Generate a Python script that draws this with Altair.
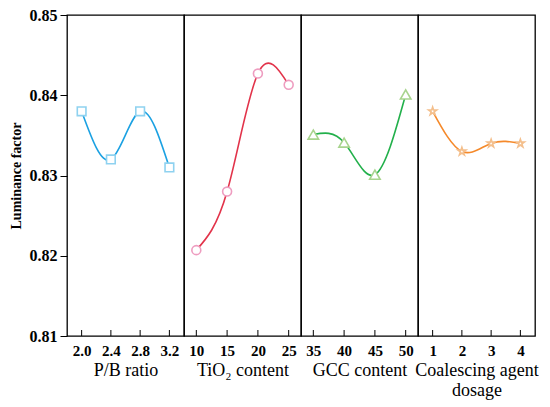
import altair as alt
import pandas as pd

pb_x = [2.0, 2.4, 2.8, 3.2]
pb_y = [0.838, 0.832, 0.838, 0.831]
tio2_x = [10, 15, 20, 25]
tio2_y = [0.8207, 0.828, 0.8427, 0.8413]
gcc_x = [35, 40, 45, 50]
gcc_y = [0.8351, 0.8341, 0.8301, 0.8401]
ca_x = [1, 2, 3, 4]
ca_y = [0.838, 0.833, 0.834, 0.834]
y_ticks = [0.81, 0.82, 0.83, 0.84, 0.85]

W, H = 117, 321
FONT = "Liberation Serif"
STAR = ("M0,-1L0.2245,-0.309L0.951,-0.309L0.363,0.118L0.588,0.809L0,0.382"
        "L-0.588,0.809L-0.363,0.118L-0.951,-0.309L-0.2245,-0.309Z")


def panel(xs, ys, domain, title, line_color, mark_color, shape, size, fmt, first=False):
    df = pd.DataFrame({"x": xs, "y": ys})
    xenc = alt.X(
        "x:Q",
        scale=alt.Scale(domain=domain, nice=False, zero=False),
        axis=alt.Axis(values=xs, format=fmt, title=title, ticks=False, grid=False,
                      domain=False, labelPadding=7, titlePadding=3, labelOverlap=False,
                      labelFlush=False, labelFont=FONT, titleFont=FONT),
    )
    if first:
        yaxis = alt.Axis(values=y_ticks, format=".2f", title="Luminance factor", grid=False,
                         domain=False, tickSize=7, tickColor="black", labelPadding=3,
                         labelFontSize=16, titleFontSize=14, titleFontWeight="bold",
                         titlePadding=6, labelFlush=False, labelOverlap=False,
                         labelFont=FONT, titleFont=FONT)
    else:
        yaxis = None
    yenc = alt.Y("y:Q", scale=alt.Scale(domain=[0.81, 0.85], nice=False, zero=False), axis=yaxis)
    line = alt.Chart(df).mark_line(interpolate="natural", color=line_color, strokeWidth=1.6).encode(x=xenc, y=yenc)
    pts = alt.Chart(df).mark_point(shape=shape, filled=True, fill="white", fillOpacity=1,
                                   stroke=mark_color, strokeWidth=1.6, size=size, opacity=1).encode(x=xenc, y=yenc)
    ticks = alt.Chart(df).mark_rule(color="black", strokeWidth=1).encode(
        x=xenc, y=alt.value(H), y2=alt.value(H - 6))
    return alt.layer(line, pts, ticks).properties(width=W, height=H)


p1 = panel(pb_x, pb_y, [1.8, 3.4], "P/B ratio", "#1ba1e2", "#8fd2f0", "square", 75, ".1f", first=True)
p2 = panel(tio2_x, tio2_y, [8, 27], "TiO₂ content", "#e2334a", "#ee9dc0", "circle", 80, "d")
p3 = panel(gcc_x, gcc_y, [33, 52], "GCC content", "#22b04b", "#a8d48e", "triangle-up", 110, "d")
p4 = panel(ca_x, ca_y, [0.5, 4.5], ["Coalescing agent", "dosage"], "#f5892a", "#f4bf8c", STAR, 70, "d")

chart = alt.hconcat(p1, p2, p3, p4, spacing=0, bounds="flush").properties(
    padding={"left": 0, "top": -2, "right": 0, "bottom": 0}
).configure_view(
    stroke="black", strokeWidth=1.3
).configure_axis(
    labelColor="black", titleColor="black",
    labelFontSize=15, labelFontWeight="bold", titleFontSize=18, titleFontWeight="normal",
).configure_concat(spacing=0)

chart.save("out.html", embed_options={"renderer": "svg", "actions": False})
